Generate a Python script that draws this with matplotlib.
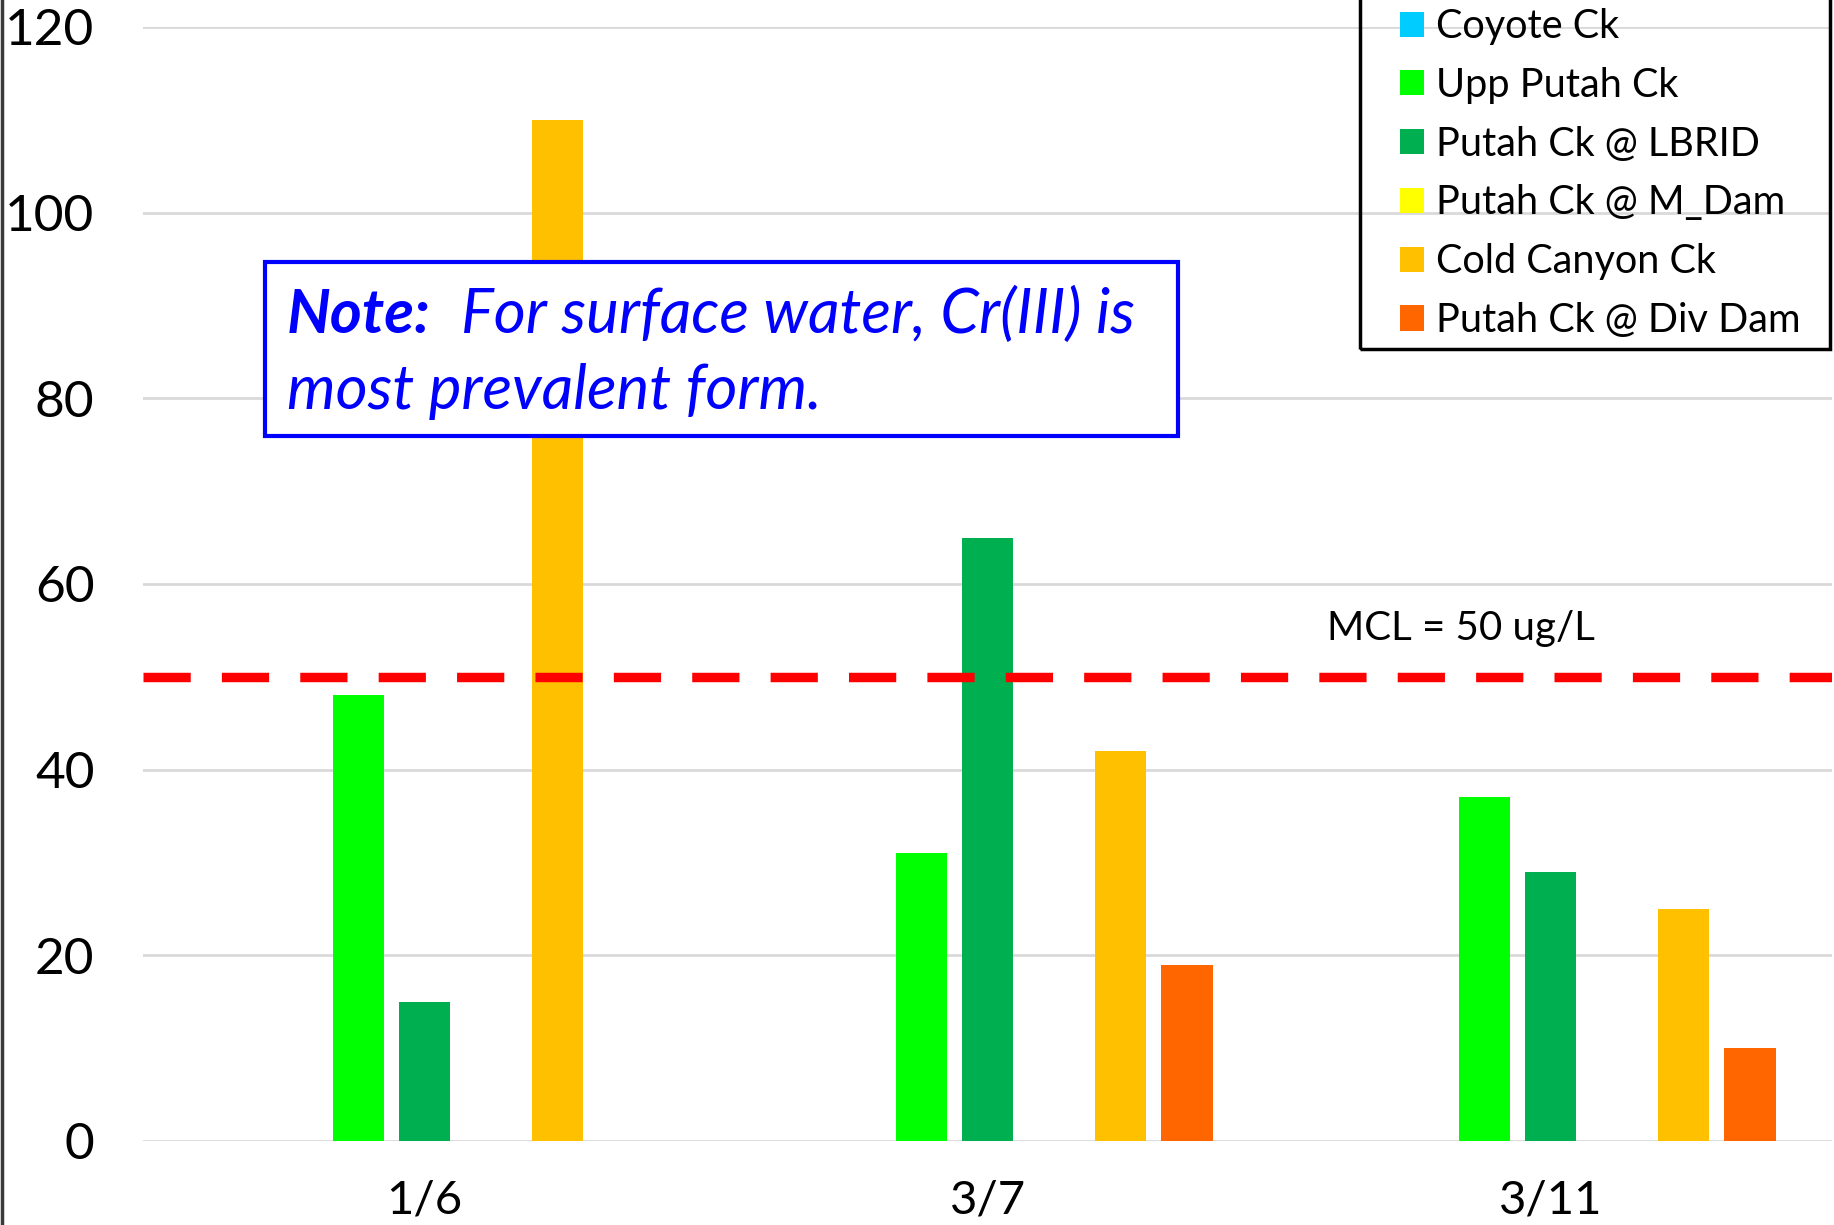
import matplotlib
matplotlib.use('Agg')
import matplotlib.pyplot as plt
from matplotlib.patches import Rectangle
from matplotlib.lines import Line2D
import numpy as np

plt.rcParams['font.family'] = ['Lato', 'DejaVu Sans']

# data
dates = ['1/6', '3/7', '3/11']
sites = ['Coyote Ck', 'Upp Putah Ck', 'Putah Ck @ LBRID', 'Putah Ck @ M_Dam',
         'Cold Canyon Ck', 'Putah Ck @ Div Dam']
colors = ['#00CCFF', '#00FF00', '#00B050', '#FFFF00', '#FFC000', '#FF6600']
coyote = [np.nan, np.nan, np.nan]
upp_putah = [48, 31, 37]
lbrid = [15, 65, 29]
m_dam = [np.nan, np.nan, np.nan]
cold_canyon = [110, 42, 25]
div_dam = [np.nan, 19, 10]
values = [coyote, upp_putah, lbrid, m_dam, cold_canyon, div_dam]
mcl = 50
yticks = [0, 20, 40, 60, 80, 100, 120]

fig = plt.figure(figsize=(18.34, 12.25), dpi=100)
ax = fig.add_axes([0.078, 0.0686, 0.921, 0.9094])

x = np.arange(len(dates))
width = 0.091
step = 0.118
for i, (name, vals, c) in enumerate(zip(sites, values, colors)):
    ax.bar(x + (i - 2) * step, vals, width=width, color=c, label=name, zorder=3)

# MCL line
ax.axhline(mcl, color='#FF0000', lw=6.8, dashes=(5, 3.3), zorder=4)
ax.text(1.84, mcl + 5.2, 'MCL = 50 ug/L', fontsize=29, ha='center', va='center')

ax.set_xlim(-0.5, 2.5)
ax.set_ylim(0, 120)
ax.set_yticks(yticks)
ax.set_xticks(x)
ax.set_xticklabels(dates)
ax.yaxis.grid(True, color='#D9D9D9', lw=2, zorder=0)
ax.set_axisbelow(True)
for s in ax.spines.values():
    s.set_visible(False)
ax.tick_params(axis='both', length=0)
ax.tick_params(axis='y', labelsize=37, pad=35)
ax.tick_params(axis='x', labelsize=34, pad=28)

# legend (frame drawn separately, its top runs off the figure)
leg = ax.legend(loc='lower left', bbox_to_anchor=(0.7634, 0.7233),
                bbox_transform=fig.transFigure, fontsize=28.5, frameon=False,
                handlelength=0.6, handleheight=0.6, handletextpad=0.3,
                labelspacing=0.55, borderpad=0, borderaxespad=0)
fig.patches.append(Rectangle((0.7415, 0.715), 0.2563, 0.3, transform=fig.transFigure,
                             fill=False, edgecolor='black', lw=2.5, zorder=5))

# note box
fig.patches.append(Rectangle((0.1445, 0.6441), 0.4978, 0.142, transform=fig.transFigure,
                             fill=True, facecolor='white', edgecolor='#0000FF', lw=3, zorder=5))
fig.text(0.1565, 0.728, 'Note:', color='#0000FF', fontsize=44, fontweight='bold',
         fontstyle='italic', va='baseline', zorder=6)
fig.text(0.2515, 0.728, 'For surface water, Cr(III) is', color='#0000FF', fontsize=44.5,
         fontstyle='italic', va='baseline', zorder=6)
fig.text(0.1565, 0.666, 'most prevalent form.', color='#0000FF', fontsize=44.5,
         fontstyle='italic', va='baseline', zorder=6)

# dark strip at left edge
fig.lines.append(Line2D([0.001, 0.001], [0, 1], transform=fig.transFigure,
                        color='#3a3a3a', lw=2.5))

fig.savefig('out.png', dpi=100)
